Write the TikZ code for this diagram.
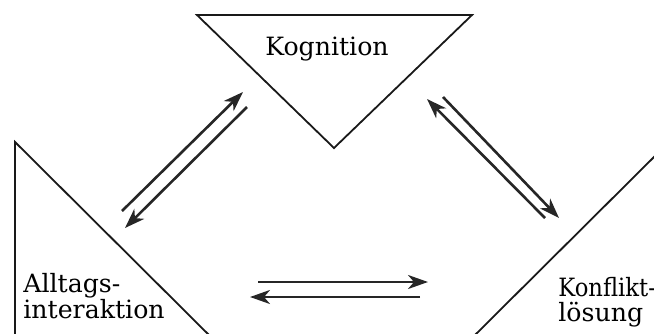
\documentclass[tikz,border=0pt]{standalone}
\usepackage{fontspec}
\usepackage{graphicx}
\setmainfont{DejaVu Serif}
\usetikzlibrary{arrows.meta}
\begin{document}
\begin{tikzpicture}[x=0.5pt,y=-0.5pt,
  tri/.style={draw=black!90, line width=0.9pt, line join=miter},
  lbl/.style={inner sep=0pt, anchor=base west, font=\fontsize{12.6}{12.5}\selectfont},
  flow/.style={draw=black!85, line width=1.3pt, -{Stealth[length=10pt,width=7pt,inset=3pt]}}]
\useasboundingbox (0,0) rectangle (654,333);
% triangles
\draw[tri] (197,15) -- (472,15) -- (334,148) -- cycle;
\draw[tri, line width=1.2pt] (197,15) -- (472,15);
\draw[tri] (15,335) -- (15,142) -- (209,335);
\draw[tri] (475,335) -- (656,155);
% labels
\node[lbl, anchor=base] (kog) at (327,55) {Kognition};
\node[lbl] (all1) at (23,292) {Alltags-};
\node[lbl] (all2) at (23,318) {interaktion};
\node[lbl] (kon1) at (558,296) {\scalebox{0.9}[1]{Konflikt-}};
\node[lbl] (kon2) at (558,321) {lösung};
% arrow end points
\coordinate (a1s) at (122,211); \coordinate (a1e) at (243,92);
\coordinate (a2s) at (247,107); \coordinate (a2e) at (125,228);
\coordinate (b1s) at (545,218); \coordinate (b1e) at (427,99);
\coordinate (b2s) at (443,97);  \coordinate (b2e) at (559,218);
\coordinate (c1s) at (258,282); \coordinate (c1e) at (428,282);
\coordinate (c2s) at (420,297); \coordinate (c2e) at (250,297);
\draw[flow] (a1s) -- (a1e);
\draw[flow] (a2s) -- (a2e);
\draw[flow] (b1s) -- (b1e);
\draw[flow] (b2s) -- (b2e);
\draw[flow] (c1s) -- (c1e);
\draw[flow] (c2s) -- (c2e);
\end{tikzpicture}
\end{document}
